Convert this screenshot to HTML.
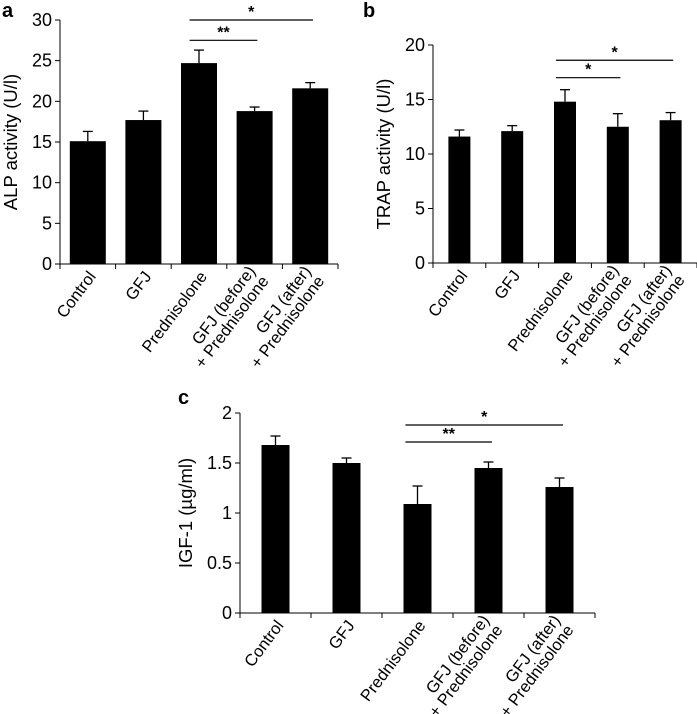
<!DOCTYPE html>
<html><head><meta charset="utf-8"><style>
html,body{margin:0;padding:0;background:#fff;}
svg{display:block;font-family:"Liberation Sans",Arial,sans-serif;}
</style></head><body>
<svg id="fig" width="697" height="714" viewBox="0 0 697 714"></svg>
<script>
const categories = ["Control","GFJ","Prednisolone","GFJ (before)|+ Prednisolone","GFJ (after)|+ Prednisolone"];
const alpValues = [15.1,17.7,24.7,18.8,21.6];
const alpErrors = [1.2,1.1,1.6,0.5,0.7];
const alpTicks = [0,5,10,15,20,25,30];
const trapValues = [11.6,12.1,14.8,12.5,13.1];
const trapErrors = [0.6,0.5,1.1,1.2,0.7];
const trapTicks = [0,5,10,15,20];
const igfValues = [1.68,1.50,1.09,1.45,1.26];
const igfErrors = [0.09,0.05,0.18,0.06,0.09];
const igfTicks = [0,0.5,1,1.5,2];
const alpSig = [{from:2,to:3,label:"**",v:27.5},{from:2,to:4,label:"*",v:30}];
const trapSig = [{from:2,to:3,label:"*",v:17},{from:2,to:4,label:"*",v:18.6}];
const igfSig = [{from:2,to:3,label:"**",v:1.71},{from:2,to:4,label:"*",v:1.88}];

const NS="http://www.w3.org/2000/svg";
const svg=document.getElementById('fig');
function mk(tag,attrs,parent){const e=document.createElementNS(NS,tag);for(const k in attrs)e.setAttribute(k,attrs[k]);(parent||svg).appendChild(e);return e;}

function panel(o){
  const g=mk('g',{});
  
  
  const ymax=o.ticks[o.ticks.length-1];
  const y=v=>o.y0-(v/ymax)*(o.y0-o.yTop);
  const cw=(o.x1-o.x0)/categories.length;
  const cx=i=>o.x0+cw*(i+0.5);
  const lt=mk('text',{x:o.letterX,y:o.letterY,'font-size':20,'font-weight':'bold',fill:'#000'},g);
  lt.textContent=o.letter;
  
  
  const ya=mk('line',{x1:o.x0,y1:o.yTop,x2:o.x0,y2:o.y0,stroke:'#000','stroke-width':1},g);
  
  
  const xa=mk('line',{x1:o.x0,y1:o.y0,x2:o.x1,y2:o.y0,stroke:'#000','stroke-width':1},g);
  
  
  o.ticks.forEach(t=>{
    mk('line',{x1:o.x0-5,y1:y(t),x2:o.x0,y2:y(t),stroke:'#000'},g);
    const tx=mk('text',{x:o.x0-8,y:y(t)+6,'font-size':18,'text-anchor':'end',fill:'#000'},g);
    tx.textContent=t;
    
    
  });
  for(let i=0;i<=categories.length;i++){
    mk('line',{x1:o.x0+cw*i,y1:o.y0,x2:o.x0+cw*i,y2:o.y0+5,stroke:'#000'},g);
  }
  const yt=mk('text',{x:0,y:0,'font-size':18.5,'text-anchor':'middle',fill:'#000',transform:`translate(${o.titleX},${(o.y0+o.yTop)/2}) rotate(-90)`},g);
  yt.textContent=o.title;
  
  
  o.values.forEach((v,i)=>{
    const bw=o.bw;
    const eTop=y(v+o.errors[i]);
    const el=mk('line',{x1:cx(i),y1:eTop,x2:cx(i),y2:y(v),stroke:'#000','stroke-width':1.3},g);
    
    
    mk('line',{x1:cx(i)-5,y1:eTop,x2:cx(i)+5,y2:eTop,stroke:'#000','stroke-width':1.3},g);
    const r=mk('rect',{x:cx(i)-bw/2,y:y(v),width:bw,height:o.y0-y(v),fill:'#000'},g);
    
    
  });
  o.sig.forEach(s=>{
    const l=mk('line',{x1:cx(s.from)-cw*0.17,y1:y(s.v),x2:cx(s.to)+cw*0.05,y2:y(s.v),stroke:'#000','stroke-width':1.2},g);
    
    
    const st=mk('text',{x:(cx(s.from)-cw*0.17+cx(s.to)+cw*0.05)/2,y:y(s.v)-3,'font-size':16,'font-weight':'bold','text-anchor':'middle',fill:'#000'},g);
    st.textContent=s.label;
    
    
  });
  categories.forEach((c,i)=>{
    const lines=c.split('|');
    const tg=mk('g',{transform:`translate(${cx(i)+4},${o.y0+9}) rotate(-53)`},g);
    
    
    lines.forEach((ln,j)=>{
      const dy=lines.length===1?6:(j===0?-3:13.5);
      const t=mk('text',{x:0,y:dy,'font-size':16.5,'text-anchor':'end',fill:'#000'},tg);
      t.textContent=ln;
    });
  });
}
panel({name:'panel-a-alp',letter:'a',letterX:2,letterY:17,x0:60,x1:338,y0:264,yTop:20,ticks:alpTicks,values:alpValues,errors:alpErrors,bw:36,title:'ALP activity (U/l)',titleX:17,sig:alpSig});
panel({name:'panel-b-trap',letter:'b',letterX:363,letterY:17,x0:433,x1:697,y0:263,yTop:45,ticks:trapTicks,values:trapValues,errors:trapErrors,bw:22,title:'TRAP activity (U/l)',titleX:390,sig:trapSig});
panel({name:'panel-c-igf1',letter:'c',letterX:178,letterY:404,x0:240,x1:595,y0:613,yTop:413,ticks:igfTicks,values:igfValues,errors:igfErrors,bw:28,title:'IGF-1 (µg/ml)',titleX:192,sig:igfSig});
</script>
</body></html>
